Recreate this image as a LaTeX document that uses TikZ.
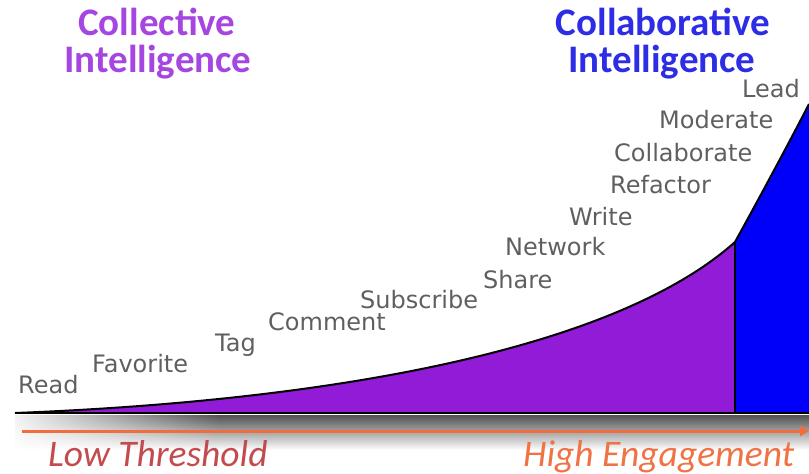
\documentclass[tikz,border=0pt]{standalone}
\usepackage{fontspec}
\setmainfont{DejaVu Sans}
\newfontfamily\titlefont{Carlito}
\usetikzlibrary{arrows.meta,fadings}
\definecolor{purpfill}{RGB}{145,27,215}
\definecolor{bluefill}{RGB}{0,0,250}
\definecolor{titlepurp}{RGB}{165,70,225}
\definecolor{titleblue}{RGB}{45,45,230}
\definecolor{labgray}{RGB}{95,95,95}
\definecolor{lowred}{RGB}{195,75,80}
\definecolor{highorange}{RGB}{240,115,70}
\definecolor{arroworange}{RGB}{240,110,60}
\tikzset{
  lab/.style={anchor=base west, inner sep=0pt, text=labgray, font=\fontsize{24}{24}\selectfont},
  ttl/.style={anchor=base, inner sep=0pt, align=center, font=\titlefont\bfseries\fontsize{39}{39}\selectfont},
  axl/.style={anchor=base west, inner sep=0pt, font=\titlefont\itshape\fontsize{37.5}{37.5}\selectfont}
}
\def\curvepath{(15,413) .. controls (350,400) and (620,345) .. (735,242) .. controls (750,215) and (788,145) .. (809,104)}
\begin{document}
\begin{tikzpicture}[x=1pt,y=-1pt]
\useasboundingbox (0,0) rectangle (809,474);
% gradient band
\shade[top color=black!68, bottom color=white] (15,415) rectangle (809,450);
\fill[white, path fading=east] (0,414) rectangle (220,452);
% areas
\fill[purpfill] \curvepath -- (809,413) -- (15,413) -- cycle;
\begin{scope}
\clip (735,0) rectangle (809,414);
\fill[bluefill] \curvepath -- (809,413) -- (15,413) -- cycle;
\end{scope}
\draw[line width=2pt] \curvepath;
\coordinate (base0) at (15,413);
\coordinate (base1) at (809,413);
\coordinate (split0) at (735,413);
\coordinate (split1) at (735,242);
\draw[line width=2.5pt] (base0) -- (base1);
\draw[line width=2pt] (split0) -- (split1);
% arrow
\coordinate (ar0) at (22,431);
\coordinate (ar1) at (809,431);
\draw[arroworange, line width=3pt, -{Triangle[length=9pt,width=10pt]}] (ar0) -- (ar1);
% labels
\node[lab] (read) at (18,393) {Read};
\node[lab] (fav) at (92,372) {Favorite};
\node[lab] (tag) at (215,351) {Tag};
\node[lab] (comm) at (268,330) {Comment};
\node[lab] (subs) at (360,308) {Subscribe};
\node[lab] (share) at (483,288) {Share};
\node[lab] (net) at (505,255) {Network};
\node[lab] (write) at (569,225) {Write};
\node[lab] (refac) at (610,193) {Refactor};
\node[lab] (collab) at (614,161) {Collaborate};
\node[lab] (mod) at (659,128) {Moderate};
\node[lab] (lead) at (742,97) {Lead};
% titles
\node[ttl, text=titlepurp] (ci1) at (157,35) {Collective};
\node[ttl, text=titlepurp] (ci2) at (158,72) {Intelligence};
\node[ttl, text=titleblue] (co1) at (663,35) {Collaborative};
\node[ttl, text=titleblue] (co2) at (662,72) {Intelligence};
% axis labels
\node[axl, text=lowred] (low) at (48,466) {Low Threshold};
\node[axl, text=highorange] (high) at (523,466) {High Engagement};
\end{tikzpicture}
\end{document}
